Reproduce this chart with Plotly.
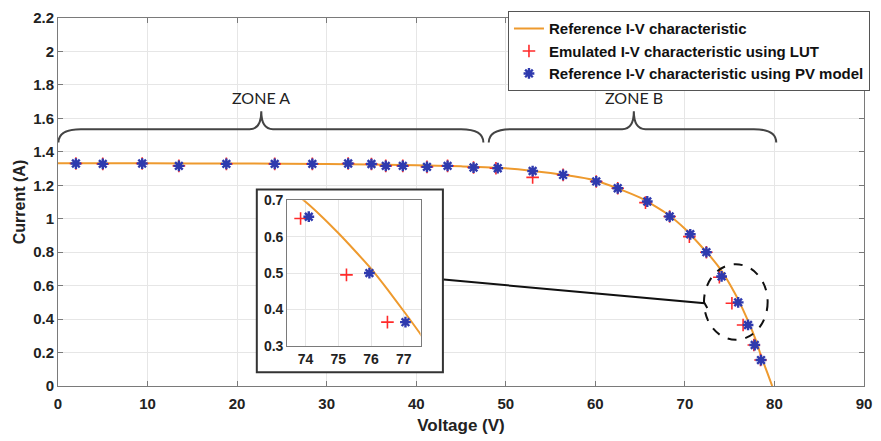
import plotly.graph_objects as go

# ---------------- data ----------------
curve_v = [0, 10, 20, 30, 40, 45, 50, 55, 60, 65, 68, 70, 72, 73, 74, 74.5, 75, 75.5, 76, 76.5, 77, 77.5, 78, 78.6, 79.2, 79.75]
curve_i = [1.332, 1.331, 1.330, 1.327, 1.320, 1.313, 1.302, 1.273, 1.229, 1.126, 1.030, 0.940, 0.825, 0.765, 0.696, 0.655, 0.610, 0.562, 0.512, 0.455, 0.395, 0.333, 0.262, 0.165, 0.080, 0.0]

lut_v = [2.0, 5.0, 9.4, 13.5, 18.8, 24.2, 28.4, 32.4, 35.0, 36.6, 38.5, 41.2, 43.5, 46.4, 48.9, 53.0, 56.4, 60.1, 62.5, 65.6, 68.3, 70.5, 72.4, 73.85, 75.25, 76.5, 77.7, 78.45]
lut_i = [1.330, 1.328, 1.330, 1.316, 1.328, 1.328, 1.328, 1.330, 1.327, 1.316, 1.316, 1.310, 1.316, 1.306, 1.302, 1.247, 1.262, 1.223, 1.182, 1.096, 1.013, 0.893, 0.800, 0.650, 0.495, 0.365, 0.245, 0.155]

pv_v = [2.0, 5.0, 9.4, 13.5, 18.8, 24.2, 28.4, 32.4, 35.0, 36.6, 38.5, 41.2, 43.5, 46.4, 49.1, 53.0, 56.4, 60.1, 62.5, 65.8, 68.3, 70.6, 72.4, 74.1, 75.95, 77.05, 77.8, 78.5]
pv_i = [1.330, 1.328, 1.330, 1.316, 1.328, 1.328, 1.328, 1.330, 1.327, 1.316, 1.316, 1.310, 1.316, 1.306, 1.302, 1.285, 1.262, 1.223, 1.182, 1.103, 1.013, 0.907, 0.800, 0.655, 0.500, 0.365, 0.245, 0.155]

x_ticks = [0, 10, 20, 30, 40, 50, 60, 70, 80, 90]
y_ticks = [0, 0.2, 0.4, 0.6, 0.8, 1, 1.2, 1.4, 1.6, 1.8, 2, 2.2]
inset_x_ticks = [74, 75, 76, 77]
inset_y_ticks = [0.3, 0.4, 0.5, 0.6, 0.7]

names = ["Reference I-V characteristic",
         "Emulated I-V characteristic using LUT",
         "Reference I-V characteristic using PV model"]
zone_labels = ["ZONE A", "ZONE B"]

# ---------------- style ----------------
ORANGE = "#EE9A2E"
RED = "#FF2A2A"
BLUE = "#2F3AAE"
AXC = "#7a7a7a"
GRID = "#e6e6e6"
FONT = "Liberation Sans, Arial, sans-serif"

fig = go.Figure()


def add_series(xa, ya, legend):
    fig.add_trace(go.Scatter(x=curve_v, y=curve_i, mode="lines", name=names[0],
                             line=dict(color=ORANGE, width=2, shape="spline", smoothing=0.6),
                             xaxis=xa, yaxis=ya, showlegend=legend))
    fig.add_trace(go.Scatter(x=lut_v, y=lut_i, mode="markers", name=names[1],
                             marker=dict(symbol="cross-thin", size=9, color=RED,
                                         line=dict(color=RED, width=1.6)),
                             xaxis=xa, yaxis=ya, showlegend=legend))
    fig.add_trace(go.Scatter(x=pv_v, y=pv_i, mode="markers", name=names[2],
                             marker=dict(symbol="asterisk", size=9, color=BLUE,
                                         line=dict(color=BLUE, width=2.4)),
                             xaxis=xa, yaxis=ya, showlegend=legend))


add_series("x", "y", True)
add_series("x2", "y2", False)

tickfont = dict(family=FONT, size=15, color="#222", weight="bold")
inset_tickfont = dict(family=FONT, size=14, color="#222", weight="bold")
fig.update_layout(
    width=881, height=441,
    margin=dict(l=58, r=13, t=9, b=54),
    paper_bgcolor="white", plot_bgcolor="white",
    font=dict(family=FONT, color="#222"),
    xaxis=dict(range=[0, 90], tickvals=x_ticks, showgrid=True, gridcolor=GRID,
               showline=True, linecolor=AXC, linewidth=1, mirror="ticks",
               ticks="inside", ticklen=5, tickcolor=AXC, tickfont=tickfont,
               ticklabelstandoff=4,
               zeroline=False, domain=[0, 1],
               title=dict(text="Voltage (V)", font=dict(family=FONT, size=17, weight="bold"), standoff=8)),
    yaxis=dict(range=[0, 2.2], tickvals=y_ticks, showgrid=True, gridcolor=GRID,
               showline=True, linecolor=AXC, linewidth=1, mirror="ticks",
               ticks="inside", ticklen=5, tickcolor=AXC, tickfont=tickfont,
               zeroline=False, domain=[0, 1],
               title=dict(text="Current (A)", font=dict(family=FONT, size=16, weight="bold"), standoff=3)),
    xaxis2=dict(range=[73.44, 77.51], tickvals=inset_x_ticks, anchor="y2",
                domain=[0.2843, 0.4498], showgrid=True, gridcolor=GRID,
                showline=True, linecolor=AXC, mirror=True, ticks="",
                tickfont=inset_tickfont, zeroline=False),
    yaxis2=dict(range=[0.3, 0.7], tickvals=inset_y_ticks, anchor="x2",
                domain=[0.1093, 0.5045], showgrid=True, gridcolor=GRID,
                showline=True, linecolor=AXC, mirror=True, ticks="",
                tickfont=inset_tickfont, zeroline=False),
    legend=dict(x=1.0074, y=1.0185, xanchor="right", yanchor="top", bgcolor="white",
                bordercolor="#555", borderwidth=1,
                font=dict(family=FONT, size=15, color="#111", weight="bold"),
                itemwidth=30, tracegroupgap=0),
    showlegend=True,
)

# inset frame (white background box)
fig.add_shape(type="rect", xref="x", yref="y", x0=22.2, x1=42.98, y0=0.0815, y1=1.175,
              fillcolor="white", line=dict(color="#333", width=2), layer="between")

# connector line
fig.add_shape(type="path", xref="x", yref="y",
              path="M 43.06,0.636 L 72.2,0.495 L 72.5,0.467",
              line=dict(color="#111", width=2), layer="above")

# dashed ellipse
fig.add_shape(type="circle", xref="x", yref="y", x0=72.13, x1=79.24, y0=0.276, y1=0.728,
              line=dict(color="#111", width=2, dash="dash"), layer="above")


def brace(x0, xm, x1, yend=1.455, yflat=1.535, ypeak=1.642, rc=2.5, rm=1.3):
    return (f"M {x0},{yend} Q {x0},{yflat} {x0 + rc},{yflat} L {xm - rm},{yflat} "
            f"Q {xm},{yflat} {xm},{ypeak} Q {xm},{yflat} {xm + rm},{yflat} "
            f"L {x1 - rc},{yflat} Q {x1},{yflat} {x1},{yend}")


for (x0, xm, x1), lab in zip([(0.05, 22.7, 47.5), (48.1, 64.3, 80.2)], zone_labels):
    fig.add_shape(type="path", xref="x", yref="y", path=brace(x0, xm, x1),
                  line=dict(color="#444", width=2), layer="above")
    fig.add_annotation(x=xm, y=1.725, xref="x", yref="y", text=lab, showarrow=False,
                       font=dict(family="Lato, sans-serif", size=16, color="#222"))

fig.write_html("out.html")
